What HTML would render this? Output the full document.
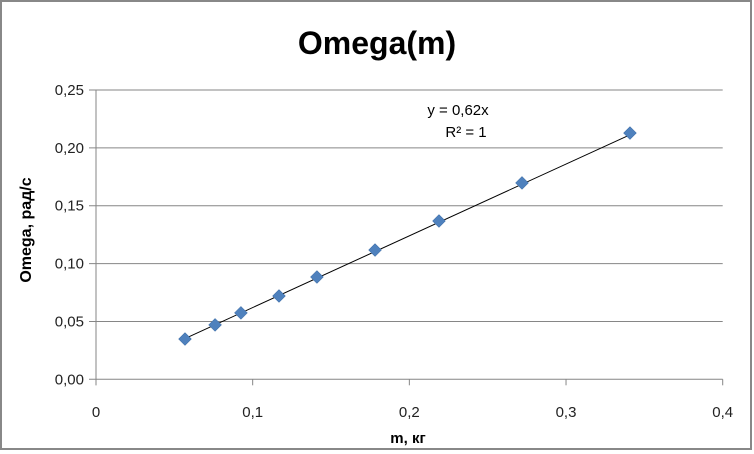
<!DOCTYPE html>
<html><head><meta charset="utf-8"><style>
body{margin:0;background:#fff}
svg{display:block;font-family:"Liberation Sans",sans-serif}
</style></head><body>
<svg id="c" width="754" height="454">
<rect x="1" y="1" width="750" height="448" fill="#fff" stroke="#888" stroke-width="2"/>
<text x="377" y="54" text-anchor="middle" font-size="32" font-weight="bold">Omega(m)</text>
<text x="408" y="443" text-anchor="middle" font-size="15" font-weight="bold">m, кг</text>
<text transform="translate(31,230) rotate(-90)" text-anchor="middle" font-size="16" font-weight="bold">Omega, рад/с</text>
<g id="grid"></g><g id="axes"></g><g id="marks"></g>
<text x="458" y="115" text-anchor="middle" font-size="15">y = 0,62x</text>
<text x="466" y="137" text-anchor="middle" font-size="15">R² = 1</text>
</svg>
<script>
const xVals=[0.0568,0.0760,0.0925,0.1168,0.1410,0.1781,0.2189,0.2719,0.3408];
const yVals=[0.0348,0.0470,0.0574,0.0720,0.0884,0.1117,0.1368,0.1697,0.2128];
const slope=0.62;
const xTicks=[0,0.1,0.2,0.3,0.4];
const xTickLabels=["0","0,1","0,2","0,3","0,4"];
const yTicks=[0,0.05,0.1,0.15,0.2,0.25];
const yTickLabels=["0,00","0,05","0,10","0,15","0,20","0,25"];
const X0=96,X1=722.7,Y0=379.3,Y1=90;
const sx=v=>X0+v/0.4*(X1-X0), sy=v=>Y0-v/0.25*(Y0-Y1);
const NS="http://www.w3.org/2000/svg";
function mk(t,a,p){const e=document.createElementNS(NS,t);for(const k in a)e.setAttribute(k,a[k]);p.appendChild(e);return e;}
const g=document.getElementById('grid'),ax=document.getElementById('axes'),m=document.getElementById('marks');
yTicks.forEach((v,i)=>{
 const l=mk('line',{x1:89,x2:X1,y1:sy(v),y2:sy(v),stroke:'#868686','stroke-width':1},g);
 
 
 const t=mk('text',{x:84,y:sy(v)+5,'text-anchor':'end','font-size':'15',fill:'#222'},ax);
 t.textContent=yTickLabels[i];
 
 
});
const ya=mk('line',{x1:X0,x2:X0,y1:Y1,y2:Y0+6,stroke:'#868686'},ax);


xTicks.forEach((v,i)=>{
 const l=mk('line',{x1:sx(v),x2:sx(v),y1:Y0,y2:Y0+6,stroke:'#868686'},ax);
 
 
 const t=mk('text',{x:sx(v),y:417,'text-anchor':'middle','font-size':'15',fill:'#222'},ax);
 t.textContent=xTickLabels[i];
 
 
});
const xmin=Math.min(...xVals),xmax=Math.max(...xVals);
const tl=mk('line',{x1:sx(xmin),y1:sy(slope*xmin),x2:sx(xmax),y2:sy(slope*xmax),stroke:'#000','stroke-width':1},m);


xVals.forEach((v,i)=>{
 const cx=sx(v),cy=sy(yVals[i]),r=6.5;
 const p=mk('polygon',{points:`${cx},${cy-r} ${cx+r},${cy} ${cx},${cy+r} ${cx-r},${cy}`,fill:'#4f81bd',stroke:'#3d6aa0','stroke-width':0.5},m);
 
 
});
</script>
</body></html>
